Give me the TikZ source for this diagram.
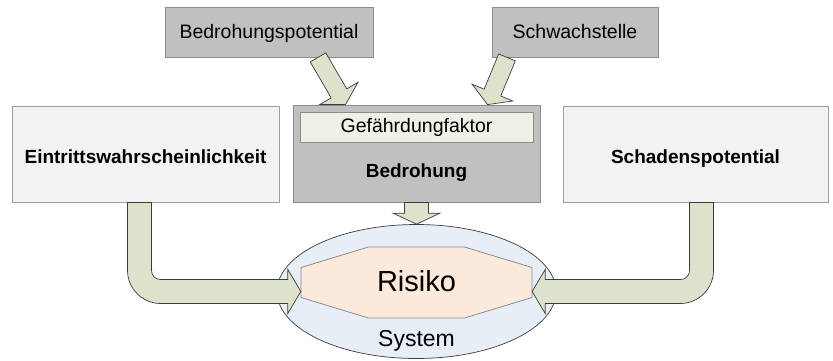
\documentclass[tikz,border=0pt]{standalone}
\usepackage{fontspec}
\setmainfont{Liberation Sans}
\usetikzlibrary{calc,shapes.geometric}

\definecolor{boxgray}{HTML}{C0C0C0}
\definecolor{boxline}{HTML}{8C8C8C}
\definecolor{paperbox}{HTML}{F2F2F2}
\definecolor{faktorfill}{HTML}{EEF1E6}
\definecolor{arrowfill}{HTML}{DDE2CC}
\definecolor{arrowline}{HTML}{3C3C3C}
\definecolor{systemfill}{HTML}{E8EEF6}
\definecolor{risikofill}{HTML}{FBE9DB}

\tikzset{
  graybox/.style={draw=boxline, fill=boxgray, line width=0.8pt, inner sep=0pt,
    minimum height=50pt, text height=12pt, text depth=0pt, font=\fontsize{19.5}{23}\selectfont},
  sidebox/.style={draw=boxline!85, fill=paperbox, line width=0.8pt, inner sep=0pt,
    minimum width=266pt, minimum height=96pt, text height=18pt, text depth=0pt,
    font=\fontsize{19}{23}\selectfont\bfseries},
  fatarr/.style={draw=arrowline, fill=arrowfill, line width=0.7pt, line join=miter},
}

% block arrow: name, from, to, half shaft, half head, head length
\newcommand{\fatarrow}[6]{%
  \coordinate (#1h) at ($(#3)!#6!(#2)$);
  \draw[fatarr] ($(#2)!#4!90:(#3)$) -- ($(#1h)!#4!90:(#3)$) -- ($(#1h)!#5!90:(#3)$) -- (#3)
    -- ($(#1h)!#5!-90:(#3)$) -- ($(#1h)!#4!-90:(#3)$) -- ($(#2)!#4!-90:(#3)$) -- cycle;
}

\begin{document}
\begin{tikzpicture}[x=1pt,y=-1pt]
\useasboundingbox (0,0) rectangle (833,360);

\node[graybox, minimum width=208pt] (pot) at (269,32) {Bedrohungspotential};
\node[graybox, minimum width=166pt] (sch) at (575,32) {Schwachstelle};

\node[sidebox, minimum width=267pt] (ein) at (145.5,154) {Eintrittswahrscheinlichkeit};
\node[sidebox, minimum width=265pt] (sd) at (695.5,154) {Schadenspotential};

\node[draw=boxline, fill=boxgray, line width=0.8pt, minimum width=247pt, minimum height=97pt] (bed) at (416.5,153.5) {};
\node[draw=boxline, fill=faktorfill, line width=0.8pt, inner sep=0pt, minimum width=233pt, minimum height=30pt,
  text height=10pt, text depth=0pt, font=\fontsize{19.5}{23}\selectfont] (gef) at (416.5,127) {Gefährdungfaktor};
\node[anchor=base, font=\fontsize{19}{23}\selectfont\bfseries] (btxt) at (416.5,177) {Bedrohung};

\node[ellipse, draw=arrowline, fill=systemfill, line width=0.7pt, inner sep=0pt,
  minimum width=279pt, minimum height=134pt] (sys) at (416.5,291.5) {};
\coordinate (rc) at (416.5,282.5);
\draw[draw=boxline, fill=risikofill, line width=0.8pt]
  ($(rc)+(-48,-35.5)$) -- ($(rc)+(48,-35.5)$) -- ($(rc)+(115.5,-15)$) -- ($(rc)+(115.5,15)$)
  -- ($(rc)+(48,35.5)$) -- ($(rc)+(-48,35.5)$) -- ($(rc)+(-115.5,15)$) -- ($(rc)+(-115.5,-15)$) -- cycle;
\node[inner sep=0pt, minimum width=231pt, minimum height=71pt, text height=17pt, text depth=0pt,
  font=\fontsize{29}{34}\selectfont] (risk) at (rc) {Risiko};
\node[anchor=base, font=\fontsize{23}{28}\selectfont] (systxt) at (416.5,346) {System};

% arrows into Bedrohung
\coordinate (p1) at ($(pot.south)+(49,0)$);
\coordinate (p2) at ($(bed.north)+(-71,0)$);
\coordinate (s1) at ($(sch.south)+(-68,0)$);
\coordinate (s2) at ($(bed.north)+(71,0)$);
\fatarrow{ap}{p1}{p2}{9pt}{22pt}{13pt}
\fatarrow{as}{s1}{s2}{9pt}{22pt}{13pt}
\fatarrow{ad}{bed.south}{sys.north}{12pt}{23.5pt}{11pt}

% L-shaped arrows into Risiko
\coordinate (el1) at ($(ein.south)+(-6,0)$);
\coordinate (el2) at (risk.west |- sys.center);
\coordinate (er1) at ($(sd.south)+(6,0)$);
\coordinate (er2) at (risk.east |- sys.center);
\draw[fatarr] let \p1=(el1), \p2=(el2) in
  (\x1+12pt,\y1) -- (\x1+12pt,\y2+21pt) .. controls (\x1+12pt,\y2+16pt) and (\x1+16pt,\y2+12pt) .. (\x1+21pt,\y2+12pt)
  -- (\x2-13pt,\y2+12pt) -- (\x2-13pt,\y2+22pt) -- (\x2,\y2) -- (\x2-13pt,\y2-22pt) -- (\x2-13pt,\y2-12pt)
  -- (\x1+21pt,\y2-12pt) .. controls (\x1+3pt,\y2-12pt) and (\x1-12pt,\y2+3pt) .. (\x1-12pt,\y2+21pt)
  -- (\x1-12pt,\y1) -- cycle;
\draw[fatarr] let \p1=(er1), \p2=(er2) in
  (\x1-12pt,\y1) -- (\x1-12pt,\y2+21pt) .. controls (\x1-12pt,\y2+16pt) and (\x1-16pt,\y2+12pt) .. (\x1-21pt,\y2+12pt)
  -- (\x2+13pt,\y2+12pt) -- (\x2+13pt,\y2+22pt) -- (\x2,\y2) -- (\x2+13pt,\y2-22pt) -- (\x2+13pt,\y2-12pt)
  -- (\x1-21pt,\y2-12pt) .. controls (\x1-3pt,\y2-12pt) and (\x1+12pt,\y2+3pt) .. (\x1+12pt,\y2+21pt)
  -- (\x1+12pt,\y1) -- cycle;
\end{tikzpicture}
\end{document}
